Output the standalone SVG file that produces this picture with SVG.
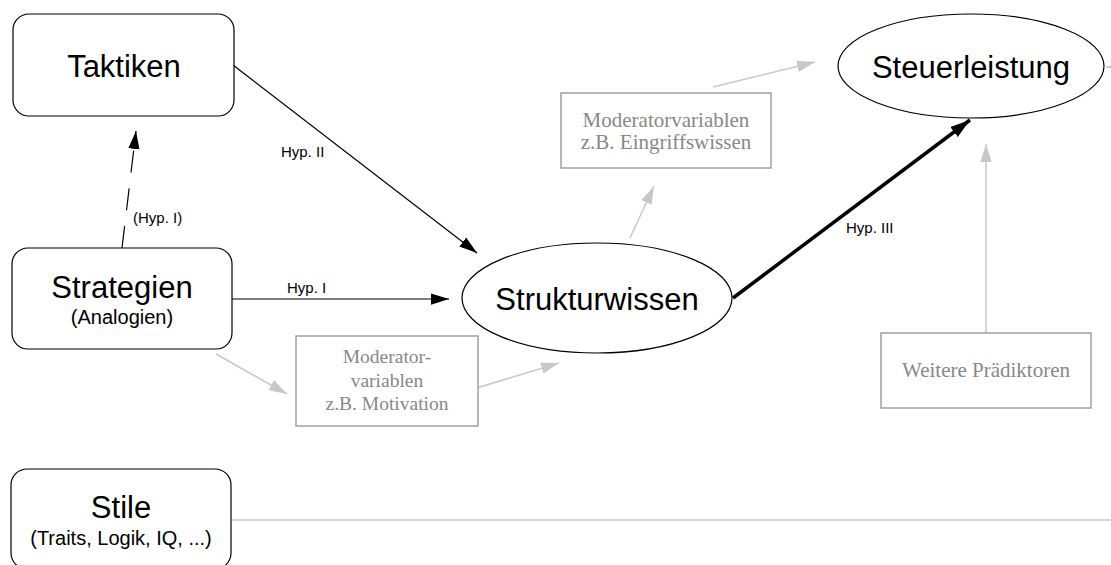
<svg xmlns="http://www.w3.org/2000/svg" width="1111" height="565" viewBox="0 0 1111 565">
<style>
.node{fill:#fff;stroke:#000;stroke-width:1.2}
.mod{fill:#fff;stroke:#a0a0a0;stroke-width:1.5}
.big{font-family:"Liberation Sans",Arial,sans-serif;font-size:31px;fill:#000;text-anchor:middle}
.sub{font-family:"Liberation Sans",Arial,sans-serif;font-size:20px;fill:#000;text-anchor:middle}
.lbl{font-family:"Liberation Sans",Arial,sans-serif;font-size:15px;fill:#000}
.mt{font-family:"Liberation Serif","Times New Roman",serif;font-size:19.5px;fill:#888;text-anchor:middle}
.mt2{font-family:"Liberation Serif","Times New Roman",serif;font-size:21px;fill:#888;text-anchor:middle}
.blk{stroke:#000;stroke-width:1.2;fill:none}
.gry{stroke:#c8c8c8;stroke-width:1.5;fill:none}
</style>
<defs>
<marker id="ab" viewBox="0 0 16 10" refX="16" refY="5" markerUnits="userSpaceOnUse" markerWidth="18" markerHeight="12" orient="auto">
<path d="M0,0 L16,5 L0,10 Z" fill="#000"/>
</marker>
<marker id="ag" viewBox="0 0 16 10" refX="16" refY="5" markerUnits="userSpaceOnUse" markerWidth="18" markerHeight="12" orient="auto">
<path d="M0,0 L16,5 L0,10 Z" fill="#c8c8c8"/>
</marker>
<marker id="abt" viewBox="0 0 16 10" refX="16" refY="5" markerUnits="userSpaceOnUse" markerWidth="20" markerHeight="13" orient="auto">
<path d="M0,0 L16,5 L0,10 Z" fill="#000"/>
</marker>
</defs>
<g id="connectors">
<line class="blk" x1="122" y1="248" x2="136" y2="131" stroke-dasharray="22,16" marker-end="url(#ab)"/>
<line class="blk" x1="233" y1="65" x2="477" y2="253" marker-end="url(#ab)"/>
<line class="blk" x1="232" y1="299" x2="449" y2="299" marker-end="url(#ab)"/>
<line x1="733" y1="298" x2="970" y2="120" stroke="#000" stroke-width="3.5" marker-end="url(#abt)"/>
<line class="gry" x1="216" y1="354" x2="287" y2="394" marker-end="url(#ag)"/>
<line class="gry" x1="457" y1="394" x2="559" y2="363" marker-end="url(#ag)"/>
<line class="gry" x1="630" y1="238" x2="654" y2="186" marker-end="url(#ag)"/>
<line class="gry" x1="713" y1="87" x2="815" y2="62" marker-end="url(#ag)"/>
<line class="gry" x1="986" y1="333" x2="986" y2="144" marker-end="url(#ag)"/>
<line class="gry" x1="1130" y1="67" x2="1106" y2="67" marker-end="url(#ag)"/>
<line class="gry" x1="231" y1="520" x2="1111" y2="520"/>
<text class="lbl" x="133" y="223">(Hyp. I)</text>
<text class="lbl" x="281" y="157">Hyp. II</text>
<text class="lbl" x="287" y="293">Hyp. I</text>
<text class="lbl" x="846" y="233">Hyp. III</text>
</g>
<g id="taktiken">
<rect class="node" x="13" y="14" width="221" height="102" rx="16"/>
<text class="big" x="124" y="77">Taktiken</text>
</g>
<g id="strategien">
<rect class="node" x="12" y="248" width="220" height="101" rx="16"/>
<text class="big" x="122" y="298">Strategien</text>
<text class="sub" x="122" y="324">(Analogien)</text>
</g>
<g id="stile">
<rect class="node" x="11" y="469" width="220" height="100" rx="16"/>
<text class="big" x="121" y="518">Stile</text>
<text class="sub" x="121" y="545">(Traits, Logik, IQ, ...)</text>
</g>
<g id="moderator1">
<rect class="mod" x="296" y="336" width="182" height="90"/>
<text class="mt" x="387" y="363">Moderator-</text>
<text class="mt" x="387" y="387">variablen</text>
<text class="mt" x="387" y="410">z.B. Motivation</text>
</g>
<g id="strukturwissen">
<ellipse class="node" cx="597" cy="298" rx="135" ry="55"/>
<text class="big" x="597" y="310">Strukturwissen</text>
</g>
<g id="moderator2">
<rect class="mod" x="561" y="93" width="210" height="75"/>
<text class="mt2" x="666" y="127">Moderatorvariablen</text>
<text class="mt2" x="666" y="149">z.B. Eingriffswissen</text>
</g>
<g id="steuerleistung">
<ellipse class="node" cx="971" cy="66" rx="133" ry="52"/>
<text class="big" x="971" y="78">Steuerleistung</text>
</g>
<g id="praediktoren">
<rect class="mod" x="881" y="333" width="210" height="75"/>
<text class="mt2" x="986" y="377">Weitere Prädiktoren</text>
</g>
</svg>
